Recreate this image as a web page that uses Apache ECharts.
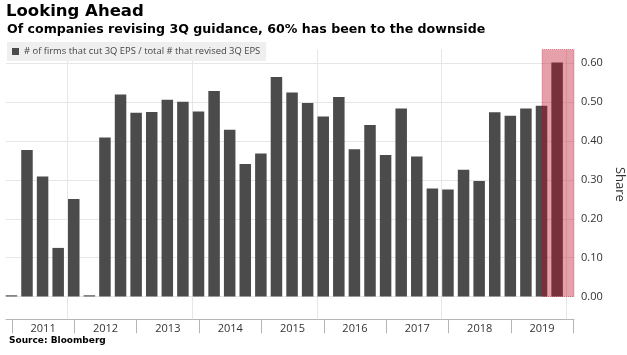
<!DOCTYPE html>
<html>
<head>
<meta charset="utf-8">
<script src="https://cdn.jsdelivr.net/npm/echarts@6/dist/echarts.min.js"></script>
<style>
html,body{margin:0;padding:0;background:#fff;}
#chart{width:627px;height:355px;}
</style>
</head>
<body>
<div id="chart"></div>
<script>
// Quarter-end categories (2010Q4 .. 2019Q3)
const quarters = ['2010Q4',
  '2011Q1','2011Q2','2011Q3','2011Q4',
  '2012Q1','2012Q2','2012Q3','2012Q4',
  '2013Q1','2013Q2','2013Q3','2013Q4',
  '2014Q1','2014Q2','2014Q3','2014Q4',
  '2015Q1','2015Q2','2015Q3','2015Q4',
  '2016Q1','2016Q2','2016Q3','2016Q4',
  '2017Q1','2017Q2','2017Q3','2017Q4',
  '2018Q1','2018Q2','2018Q3','2018Q4',
  '2019Q1','2019Q2','2019Q3'];
// Share of firms that cut 3Q EPS / total that revised 3Q EPS
const shareValues = [0.003,
  0.377,0.309,0.125,0.251,
  0.003,0.409,0.520,0.473,
  0.475,0.506,0.501,0.476,
  0.529,0.429,0.341,0.368,
  0.565,0.525,0.498,0.463,
  0.513,0.379,0.441,0.364,
  0.484,0.360,0.278,0.275,
  0.326,0.297,0.474,0.465,
  0.484,0.491,0.602];
const yearLabels = ['2011','2012','2013','2014','2015','2016','2017','2018','2019'];
const yTickValues = [0,0.1,0.2,0.3,0.4,0.5,0.6];
const highlightFrom = '2019Q2';
const seriesName = '# of firms that cut 3Q EPS / total # that revised 3Q EPS';

const barData = shareValues.map((v,i)=>[i,v]);
const yearTickPos = yearLabels.map((y,k)=>k*4).concat([yearLabels.length*4]);
const yearLabelPos = yearLabels.map((y,k)=>k*4+2);
const gridYearPos = yearTickPos.filter((p,k)=>k%2===1);
const hiIdx = quarters.indexOf(highlightFrom);

const X_MIN = -0.38, X_MAX = 36.05, Y_MIN = -0.0587, Y_MAX = 0.6355;

const chart = echarts.init(document.getElementById('chart'), null, {renderer:'canvas'});
chart.setOption({
  animation:false,
  backgroundColor:'#ffffff',
  title:[
    {text:'Looking Ahead', left:6, top:3, padding:0,
     textStyle:{fontFamily:'DejaVu Sans', fontWeight:'bold', fontSize:16.5, color:'#000'}},
    {text:'Of companies revising 3Q guidance, 60% has been to the downside', left:7, top:23, padding:0,
     textStyle:{fontFamily:'DejaVu Sans', fontWeight:'bold', fontSize:12.6, color:'#000'}},
    {text:'Source: Bloomberg', left:9, top:336, padding:0,
     textStyle:{fontFamily:'DejaVu Sans', fontWeight:'bold', fontSize:9, color:'#000'}}
  ],
  legend:{
    data:[seriesName], left:7, top:42, icon:'rect', itemWidth:7, itemHeight:7,
    backgroundColor:'#efefef', padding:[5,6,5,5],
    textStyle:{fontFamily:'Open Sans', fontSize:9.4, color:'#444'}
  },
  grid:{left:6, right:53, top:49.5, bottom:35.7, containLabel:false, outerBoundsMode:'none'},
  xAxis:{
    type:'value', min:X_MIN, max:X_MAX,
    axisLine:{show:true, onZero:false, lineStyle:{color:'#b5b5b5', width:1}},
    axisTick:{show:true, length:14, customValues:yearTickPos, lineStyle:{color:'#b5b5b5'}},
    axisLabel:{show:true, customValues:yearLabelPos, margin:4,
      formatter:(v)=>yearLabels[Math.round((v-2)/4)],
      fontFamily:'Open Sans', fontSize:11, color:'#333'},
    splitLine:{show:false}
  },
  yAxis:{
    type:'value', position:'right', min:Y_MIN, max:Y_MAX,
    name:'Share', nameLocation:'middle', nameGap:36, nameRotate:-90,
    nameTextStyle:{fontFamily:'Open Sans', fontSize:13, color:'#333'},
    axisLine:{show:false},
    axisTick:{show:false, customValues:yTickValues},
    axisLabel:{customValues:yTickValues, formatter:(v)=>v.toFixed(2), margin:7,
      fontFamily:'Open Sans', fontSize:11, color:'#333'},
    splitLine:{show:true, lineStyle:{color:'#e6e6e6', width:1}}
  },
  series:[
    {
      type:'bar', name:'grid', data:[], z:1, silent:true,
      markLine:{silent:true, z:1, symbol:['none','none'], label:{show:false},
        lineStyle:{color:'#e6e6e6', type:'solid', width:1},
        data:gridYearPos.map(p=>({xAxis:p}))}
    },
    {
      type:'bar', name:seriesName, data:barData, barWidth:11.5, z:2,
      itemStyle:{color:'#4b4b4b'}
    },
    {
      type:'bar', name:'highlight', data:[], z:10, silent:true,
      markArea:{silent:true, z:10,
        itemStyle:{color:'rgba(188,11,37,0.39)', borderColor:'rgba(188,11,37,0.45)', borderWidth:1, borderType:'dotted'},
        data:[[{xAxis:hiIdx, yAxis:0},{xAxis:X_MAX, yAxis:Y_MAX}]]}
    }
  ]
});
</script>
</body>
</html>
